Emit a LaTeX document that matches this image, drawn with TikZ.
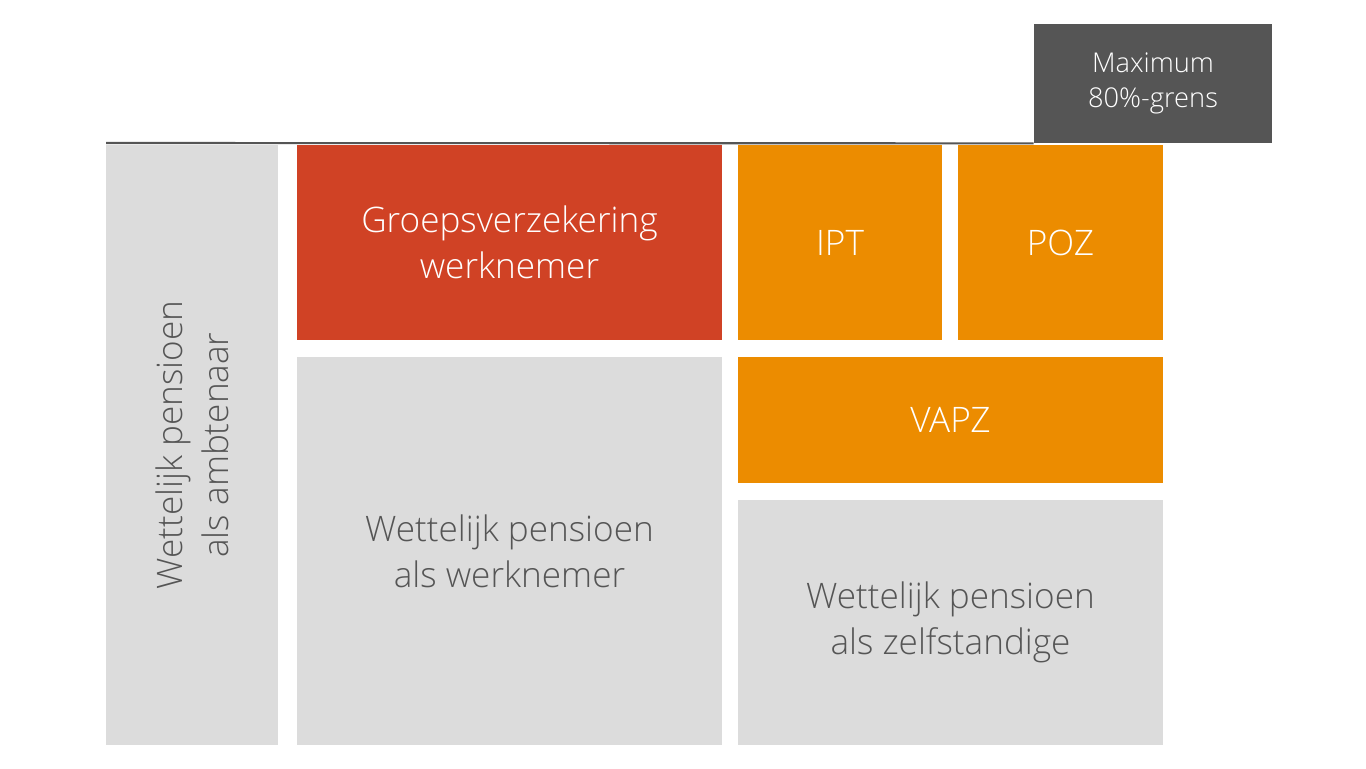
\documentclass[tikz,border=0pt]{standalone}
\usepackage{fontspec}
\setmainfont{Open Sans Light}[BoldFont=Open Sans]
\definecolor{rood}{HTML}{D04225}
\definecolor{oranje}{HTML}{EC8C00}
\definecolor{grijs}{HTML}{DCDCDC}
\definecolor{donker}{HTML}{555555}
\tikzset{
  blk/.style={rectangle,inner sep=0pt,align=center,font=\fontsize{20}{26}\selectfont},
  grijsblk/.style={blk,fill=grijs,text=donker},
  roodblk/.style={blk,fill=rood,text=white},
  oranjeblk/.style={blk,fill=oranje,text=white}
}
\begin{document}
\begin{tikzpicture}[x=0.02cm,y=-0.02cm]
  \useasboundingbox (0,0) rectangle (1366,768);
  \node (ambt) [grijsblk,minimum width=172*0.02cm,minimum height=600*0.02cm] at (192,445) {};
  \node [text=donker,font=\fontsize{20}{26}\selectfont,align=center,rotate=90] at (ambt.center) {Wettelijk pensioen\\als ambtenaar};
  \node (groep) [roodblk,minimum width=425*0.02cm,minimum height=195*0.02cm] at (509.5,242.5) {Groepsverzekering\\werknemer};
  \node (ipt) [oranjeblk,minimum width=204*0.02cm,minimum height=195*0.02cm] at (840,242.5) {IPT};
  \node (poz) [oranjeblk,minimum width=205*0.02cm,minimum height=195*0.02cm] at (1060.5,242.5) {POZ};
  \node (vapz) [oranjeblk,minimum width=425*0.02cm,minimum height=126*0.02cm] at (950.5,420) {VAPZ};
  \node (wnem) [grijsblk,minimum width=425*0.02cm,minimum height=388*0.02cm] at (509.5,551) {Wettelijk pensioen\\als werknemer};
  \node (zelf) [grijsblk,minimum width=425*0.02cm,minimum height=245*0.02cm] at (950.5,622.5) {Wettelijk pensioen\\als zelfstandige};
  \node (max) [blk,fill=donker,text=white,font=\fontsize{15.5}{20}\selectfont,minimum width=238*0.02cm,minimum height=119*0.02cm] at (1153,83.5) {Maximum\\80\%-grens};
  \coordinate (start) at (106,143);
  \draw [donker,line width=1.2pt] (start) -- (max.south west);
\end{tikzpicture}
\end{document}
